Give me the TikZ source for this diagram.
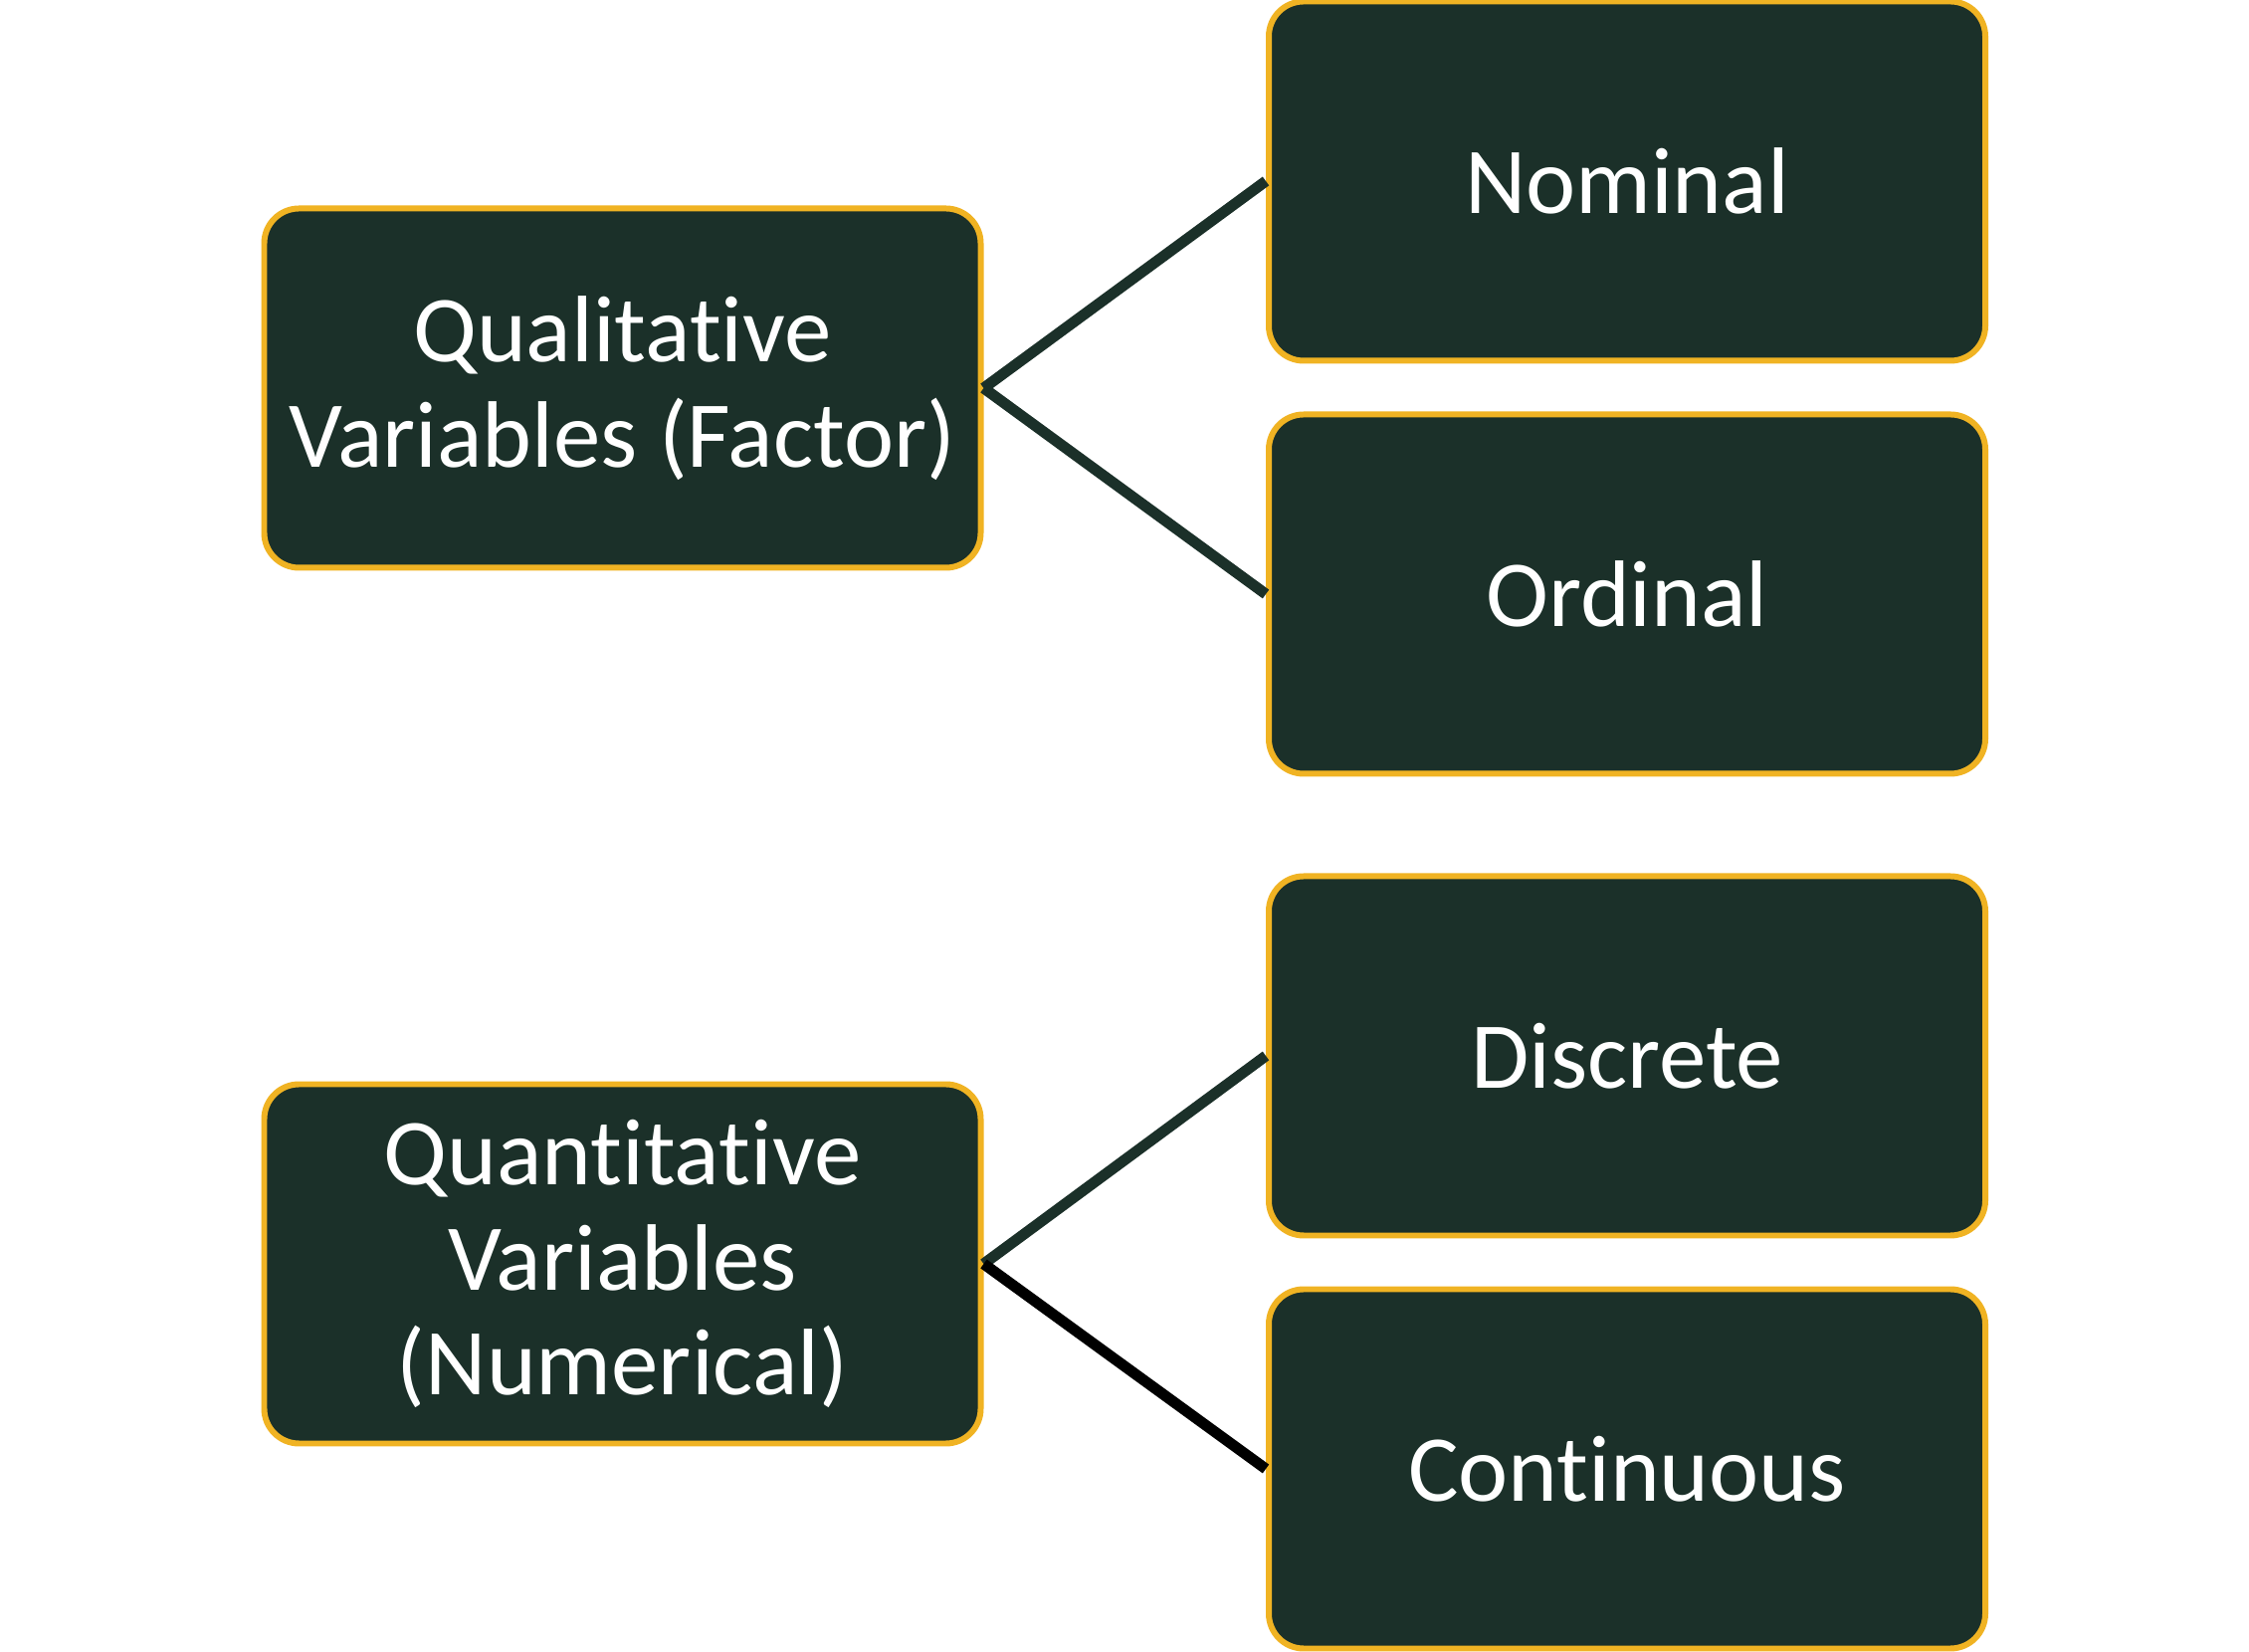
\documentclass[tikz,border=0pt]{standalone}
\usepackage{fontspec}
\setmainfont[Ligatures={NoCommon}]{Carlito}
\definecolor{boxfill}{HTML}{1B3029}
\definecolor{boxedge}{HTML}{F0B323}
\definecolor{linkgreen}{HTML}{1B3029}
\begin{document}
\begin{tikzpicture}[
  catbox/.style={draw=boxedge, line width=1.7pt, fill=boxfill, rounded corners=0.35cm,
    minimum width=7.2cm, minimum height=3.61cm, text=white, align=center,
    font=\fontsize{27}{30}\selectfont, inner sep=0pt},
  link/.style={line width=3.1pt, draw=linkgreen},
  linkblack/.style={line width=3.1pt, draw=black}
]
\useasboundingbox (0,0) rectangle (22.6,16.6);
\node[catbox] (qual) at (6.255,12.70) {Qualitative\\Variables (Factor)};
\node[catbox] (nom) at (16.35,14.78) {Nominal};
\node[catbox] (ord) at (16.35,10.63) {Ordinal};
\node[catbox] (disc) at (16.35,5.99) {Discrete};
\node[catbox] (cont) at (16.35,1.84) {Continuous};
\node[catbox] (quant) at (6.255,3.90) {Quantitative\\Variables\\(Numerical)};
\draw[link] (qual.east) -- (nom.west);
\draw[link] (qual.east) -- (ord.west);
\draw[link] (quant.east) -- (disc.west);
\draw[linkblack] (quant.east) -- (cont.west);
\end{tikzpicture}
\end{document}
